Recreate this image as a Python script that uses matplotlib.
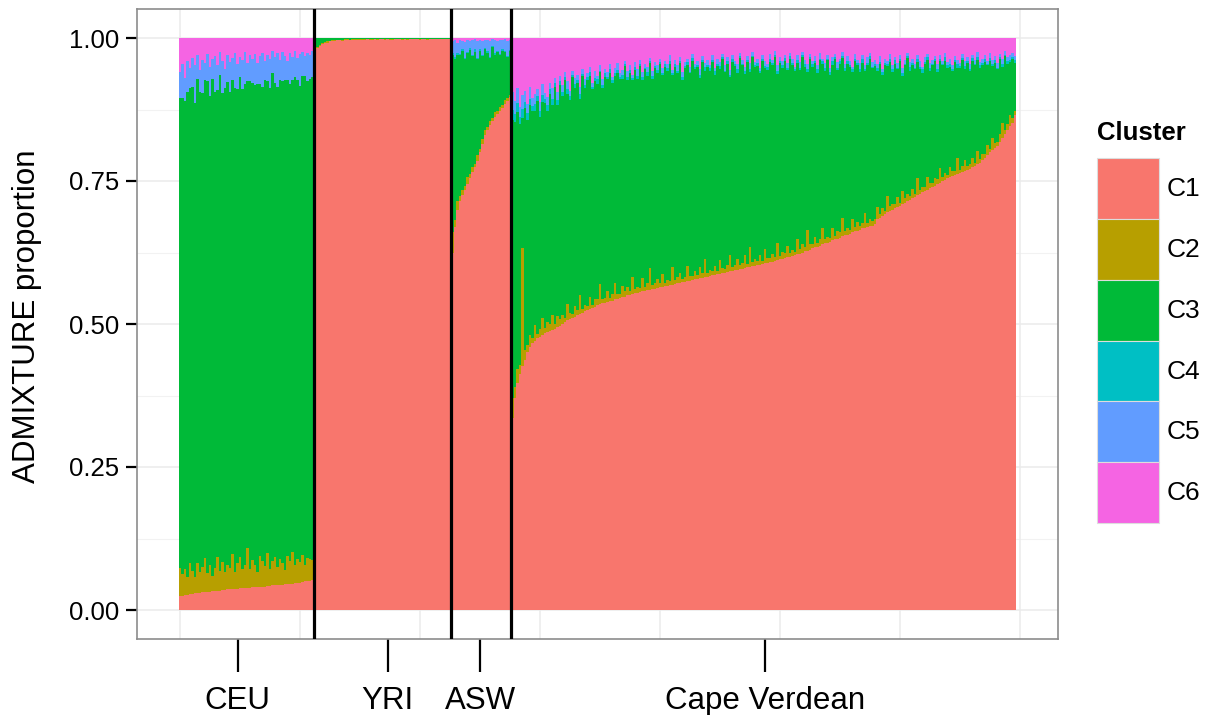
import numpy as np
import matplotlib.pyplot as plt
from matplotlib.patches import Patch

plt.rcParams["font.family"] = ["Liberation Sans", "DejaVu Sans"]

CLUSTERS = ["C1", "C2", "C3", "C4", "C5", "C6"]
COLORS = ["#F8766D", "#B79F00", "#00BA38", "#00BFC4", "#619CFF", "#F564E3"]

GROUP_NAMES = ["CEU", "YRI", "ASW", "Cape Verdean"]
LABEL_POS = [23.5, 83.5, 120.5, 234.5]

# ADMIXTURE proportions in per mille, one value per individual,
# individuals sorted by C1 inside each population

# --- CEU (C3 is the remainder) ---
ceu_c1 = [24, 25, 26, 27, 28, 28, 29, 30, 30, 31, 31, 32, 32, 33, 33, 34, 34, 35, 35, 36,
          36, 36, 37, 37, 38, 38, 38, 39, 39, 40, 40, 40, 41, 41, 41, 42, 42, 43, 43, 43,
          44, 44, 45, 45, 46, 46, 47, 47, 48, 49, 50, 50, 51, 53]
ceu_c2 = [50, 38, 46, 30, 55, 41, 28, 52, 36, 44, 60, 33, 47, 26, 40, 58, 35, 49, 31, 43,
          37, 62, 29, 45, 54, 34, 41, 70, 32, 48, 39, 27, 53, 44, 36, 57, 30, 42, 50, 33,
          46, 38, 25, 49, 40, 55, 31, 43, 36, 47, 29, 41, 38, 34]
ceu_c5 = [45, 60, 40, 55, 35, 50, 65, 42, 38, 58, 30, 48, 52, 36, 62, 44, 40, 56, 34, 47,
          53, 38, 60, 43, 35, 50, 57, 32, 46, 41, 55, 37, 49, 60, 33, 45, 52, 39, 44, 58,
          36, 50, 42, 34, 54, 40, 47, 38, 56, 43, 35, 49, 41, 45]
ceu_c6 = [60, 45, 70, 40, 52, 35, 48, 30, 56, 38, 44, 28, 50, 36, 32, 47, 25, 40, 54, 30,
          42, 35, 27, 46, 33, 39, 24, 44, 30, 37, 28, 43, 32, 26, 40, 30, 36, 22, 34, 27,
          38, 25, 31, 40, 26, 33, 22, 35, 28, 24, 32, 26, 30, 23]

# --- YRI (C1 is the remainder) ---
yri_c2 = [3, 2, 2, 2, 1, 2, 1, 1, 2, 1, 1, 2, 1, 1, 1, 1, 2, 1, 1, 1,
          1, 1, 1, 2, 1, 1, 1, 1, 1, 1, 2, 1, 1, 1, 1, 1, 1, 2, 1, 1,
          1, 1, 1, 1, 1, 2, 1, 1, 1, 1, 1, 1, 1, 1, 1]
yri_c3 = [22, 16, 12, 9, 7, 6, 5, 4, 4, 3, 3, 3, 2, 2, 3, 2, 2, 2, 2, 2,
          2, 1, 2, 2, 1, 2, 1, 1, 2, 1, 1, 2, 1, 1, 1, 2, 1, 1, 1, 1,
          1, 1, 2, 1, 1, 1, 1, 1, 1, 1, 1, 1, 1, 1, 1]

# --- ASW (C3 is the remainder) ---
asw_c1 = [625, 670, 700, 715, 725, 735, 745, 755, 765, 775, 785, 800,
          815, 830, 840, 848, 855, 862, 868, 873, 878, 884, 890, 897]
asw_c2 = [35, 12, 15, 8, 10, 6, 12, 7, 9, 5, 11, 6, 8, 10, 5, 7, 6, 9, 5, 6, 4, 7, 5, 4]
asw_c4 = [3, 2, 4, 2, 3, 2, 2, 3, 2, 4, 2, 3, 2, 2, 3, 2, 2, 3, 2, 2, 3, 2, 2, 2]
asw_c5 = [20, 30, 18, 25, 15, 28, 22, 12, 26, 18, 30, 16, 24, 14, 20, 28, 12, 22, 17, 25, 15, 20, 26, 18]
asw_c6 = [6, 4, 8, 3, 5, 7, 3, 6, 4, 2, 5, 3, 6, 4, 3, 5, 2, 4, 6, 3, 4, 2, 5, 3]

# --- Cape Verdean (C3 is the remainder) ---
cv_c1 = [335, 370, 397, 413, 426, 437, 451, 459, 466, 471,
         475, 478, 481, 484, 486, 488, 490, 492, 494, 497,
         500, 504, 507, 509, 511, 513, 515, 518, 520, 522,
         524, 526, 528, 530, 533, 535, 536, 537, 539, 540,
         541, 543, 544, 545, 547, 548, 550, 551, 553, 554,
         555, 556, 557, 558, 559, 560, 561, 562, 563, 564,
         565, 566, 567, 568, 569, 570, 571, 572, 573, 574,
         575, 576, 577, 578, 579, 580, 581, 582, 583, 584,
         585, 586, 587, 588, 589, 590, 591, 592, 593, 594,
         595, 596, 597, 598, 599, 600, 601, 602, 603, 604,
         605, 606, 607, 608, 609, 610, 612, 613, 614, 615,
         617, 618, 619, 620, 622, 623, 625, 627, 628, 630,
         632, 634, 635, 637, 639, 641, 642, 644, 646, 648,
         649, 651, 653, 655, 656, 658, 660, 662, 663, 665,
         667, 668, 670, 671, 672, 674, 684, 686, 689, 692,
         695, 698, 700, 702, 704, 706, 709, 712, 715, 717,
         720, 722, 725, 727, 730, 732, 735, 737, 740, 742,
         745, 747, 750, 752, 755, 757, 759, 760, 762, 764,
         766, 767, 769, 771, 774, 776, 779, 781, 786, 791,
         795, 800, 804, 808, 812, 818, 825, 832, 840, 846,
         852, 866]
cv_c2 = [35, 20, 25, 15, 207, 18, 12, 22, 10, 28,
         8, 14, 30, 9, 18, 12, 25, 8, 20, 11,
         15, 7, 28, 10, 6, 18, 9, 32, 7, 12,
         8, 22, 6, 14, 10, 35, 7, 9, 18, 6,
         12, 28, 8, 7, 20, 9, 15, 6, 30, 8,
         10, 7, 24, 6, 12, 38, 8, 9, 16, 7,
         22, 6, 10, 8, 30, 7, 12, 18, 6, 9,
         26, 8, 7, 14, 6, 20, 9, 32, 7, 10,
         8, 15, 6, 24, 9, 7, 12, 28, 6, 10,
         18, 7, 9, 22, 6, 35, 8, 11, 7, 16,
         6, 25, 9, 7, 14, 8, 30, 6, 12, 9,
         20, 7, 10, 6, 26, 8, 15, 7, 36, 9,
         7, 18, 6, 12, 28, 8, 10, 7, 22, 6,
         14, 9, 32, 7, 11, 6, 24, 8, 16, 7,
         10, 26, 6, 12, 8, 9, 20, 7, 14, 6,
         28, 8, 10, 7, 18, 6, 24, 9, 12, 7,
         16, 6, 30, 8, 10, 7, 22, 9, 6, 14,
         8, 26, 7, 12, 6, 18, 9, 7, 28, 6,
         11, 20, 7, 9, 16, 6, 24, 8, 12, 7,
         18, 6, 22, 9, 7, 14, 26, 8, 10, 20,
         9, 6]
cv_c4 = [18, 14, 16, 12, 15, 10, 13, 11, 9, 12,
         8, 10, 12, 7, 9, 8, 11, 6, 9, 7,
         8, 5, 9, 6, 4, 7, 5, 8, 4, 6,
         5, 7, 4, 6, 8, 3, 5, 6, 4, 7,
         4, 6, 5, 3, 7, 4, 6, 5, 3, 5,
         6, 4, 5, 3, 6, 4, 5, 3, 6, 4,
         3, 5, 4, 6, 3, 5, 4, 3, 6, 4,
         5, 3, 6, 4, 3, 5, 4, 6, 3, 4,
         4, 6, 3, 5, 4, 3, 6, 4, 5, 3,
         6, 4, 3, 5, 4, 6, 3, 4, 5, 3,
         4, 3, 5, 6, 3, 4, 5, 3, 4, 6,
         3, 5, 4, 3, 6, 4, 3, 5, 4, 3,
         5, 4, 6, 3, 4, 5, 3, 4, 6, 3,
         4, 5, 3, 6, 4, 3, 5, 4, 3, 5,
         6, 3, 4, 5, 3, 4, 6, 3, 5, 4,
         3, 5, 4, 6, 3, 4, 5, 3, 4, 6,
         4, 3, 5, 4, 6, 3, 4, 5, 3, 4,
         5, 4, 3, 6, 4, 5, 3, 4, 6, 3,
         4, 5, 3, 4, 6, 3, 5, 4, 3, 5,
         3, 6, 4, 5, 3, 4, 5, 3, 6, 4,
         4, 5]
cv_c5 = [30, 22, 26, 18, 24, 20, 16, 22, 14, 18,
         12, 16, 20, 10, 14, 12, 18, 9, 13, 10,
         12, 8, 14, 10, 7, 11, 9, 13, 8, 10,
         7, 10, 8, 12, 6, 9, 11, 7, 8, 10,
         6, 9, 12, 7, 8, 5, 10, 8, 6, 9,
         11, 7, 8, 6, 10, 5, 9, 7, 8, 6,
         9, 6, 8, 10, 5, 7, 9, 6, 8, 7,
         6, 9, 7, 5, 8, 10, 6, 7, 9, 5,
         8, 6, 10, 7, 5, 9, 6, 8, 7, 6,
         9, 5, 7, 8, 6, 10, 7, 5, 8, 6,
         7, 9, 5, 8, 6, 7, 10, 6, 8, 5,
         9, 6, 7, 5, 8, 10, 6, 7, 9, 5,
         6, 8, 7, 10, 5, 9, 6, 8, 7, 6,
         10, 5, 8, 6, 9, 7, 5, 8, 6, 10,
         7, 6, 9, 5, 8, 7, 6, 10, 5, 8,
         6, 9, 7, 5, 8, 6, 10, 7, 5, 9,
         8, 6, 7, 10, 5, 8, 6, 9, 7, 5,
         9, 7, 5, 8, 6, 10, 7, 6, 8, 5,
         7, 9, 6, 8, 5, 7, 10, 6, 8, 7,
         5, 9, 7, 6, 8, 5, 10, 7, 6, 8,
         7, 6]
cv_c6 = [95, 110, 88, 120, 100, 92, 115, 85, 105, 98,
         90, 112, 80, 96, 104, 78, 88, 70, 95, 66,
         82, 60, 75, 92, 58, 70, 64, 85, 55, 72,
         62, 50, 78, 58, 66, 48, 72, 55, 60, 45,
         68, 52, 44, 62, 56, 40, 58, 48, 64, 42,
         55, 38, 60, 46, 50, 35, 58, 42, 48, 36,
         52, 40, 45, 30, 56, 38, 48, 34, 60, 42,
         36, 50, 28, 46, 40, 55, 32, 44, 38, 48,
         30, 52, 36, 42, 28, 48, 34, 56, 30, 40,
         46, 26, 38, 50, 32, 44, 24, 42, 36, 52,
         30, 40, 46, 28, 38, 22, 48, 34, 40, 30,
         44, 26, 36, 50, 30, 42, 24, 38, 46, 28,
         40, 32, 48, 26, 36, 44, 30, 52, 34, 28,
         42, 36, 24, 46, 32, 40, 50, 28, 38, 44,
         30, 48, 34, 26, 42, 38, 46, 32, 54, 36,
         40, 28, 48, 34, 44, 30, 52, 38, 26, 42,
         36, 46, 30, 40, 50, 34, 28, 44, 38, 32,
         46, 30, 40, 26, 42, 36, 48, 32, 38, 44,
         28, 40, 34, 46, 30, 38, 24, 42, 36, 30,
         40, 26, 38, 32, 44, 28, 36, 22, 34, 30,
         26, 32]

GRID_STEP = 48


def build_group(parts, rest):
    # fill a (n, 6) table of proportions; the `rest` cluster takes what is left
    n = len(next(iter(parts.values())))
    q = np.zeros((n, len(CLUSTERS)))
    for name, vals in parts.items():
        q[:, CLUSTERS.index(name)] = vals
    q[:, CLUSTERS.index(rest)] = 1000 - q.sum(axis=1)
    return q / 1000.0


groups = [
    build_group({"C1": ceu_c1, "C2": ceu_c2, "C5": ceu_c5, "C6": ceu_c6}, "C3"),
    build_group({"C2": yri_c2, "C3": yri_c3}, "C1"),
    build_group({"C1": asw_c1, "C2": asw_c2, "C4": asw_c4, "C5": asw_c5, "C6": asw_c6}, "C3"),
    build_group({"C1": cv_c1, "C2": cv_c2, "C4": cv_c4, "C5": cv_c5, "C6": cv_c6}, "C3"),
]
Q = np.vstack(groups)
n_ind = len(Q)
bounds = np.cumsum([len(g) for g in groups])[:-1]

# ============================================================
# Figure
# ============================================================
fig = plt.figure(figsize=(12.17, 7.15), dpi=100)
ax = fig.add_axes([137 / 1217, 1 - 638.6 / 715, 921 / 1217, 629.2 / 715])

x = np.arange(n_ind)
bottom = np.zeros(n_ind)
for k, col in enumerate(COLORS):
    ax.bar(x, Q[:, k], width=1.0, bottom=bottom, align="edge",
           color=col, linewidth=0, zorder=2)
    bottom += Q[:, k]

# population separators
for b in bounds:
    ax.axvline(b, color="black", lw=2.3, zorder=3)

ax.set_xlim(-0.05 * n_ind, 1.05 * n_ind)
ax.set_ylim(-0.05, 1.05)

# grid
ax.set_yticks([0, 0.25, 0.5, 0.75, 1.0])
ax.set_yticklabels(["0.00", "0.25", "0.50", "0.75", "1.00"])
ax.set_yticks([0.125, 0.375, 0.625, 0.875], minor=True)
for yv in [0, 0.25, 0.5, 0.75, 1.0]:
    ax.axhline(yv, color="#EBEBEB", lw=1.1, zorder=0)
for yv in [0.125, 0.375, 0.625, 0.875]:
    ax.axhline(yv, color="#F2F2F2", lw=0.8, zorder=0)
for xv in np.arange(0.5, 1.05 * n_ind, GRID_STEP):
    ax.axvline(xv, color="#EBEBEB", lw=1.1, zorder=0)

ax.set_xticks(LABEL_POS)
ax.set_xticklabels(GROUP_NAMES)

ax.tick_params(axis="x", length=24, width=1.6, color="black",
               labelsize=22.5, pad=10, labelcolor="black")
ax.tick_params(axis="y", length=8, width=1.6, color="black",
               labelsize=18.5, pad=5, labelcolor="black")
ax.tick_params(axis="y", which="minor", length=0)

for s in ax.spines.values():
    s.set_color("#8C8C8C")
    s.set_linewidth(1.2)

fig.text(27 / 1217, 1 - 316 / 715, "ADMIXTURE proportion", rotation=90,
         ha="center", va="center", fontsize=22.5)

# legend: title drawn on its own so the keys can sit a little lower
fig.text(1097 / 1217, 1 - 133 / 715, "Cluster", ha="left", va="center",
         fontsize=18.5, fontweight="bold")
handles = [Patch(facecolor=c, edgecolor="#DDDDDD", linewidth=0.8) for c in COLORS]
leg = fig.legend(handles, CLUSTERS, loc="upper left",
                 bbox_to_anchor=(1097 / 1217, 1 - 158 / 715),
                 frameon=False, fontsize=19, borderpad=0, labelspacing=0,
                 handlelength=2.35, handleheight=3.17, handletextpad=0.3,
                 borderaxespad=0)

fig.savefig("out.png", dpi=100)
